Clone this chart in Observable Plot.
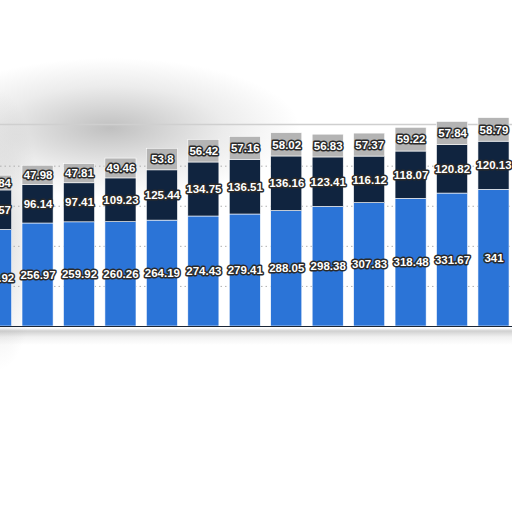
<!DOCTYPE html>
<html>
<head>
<meta charset="utf-8">
<script src="https://cdn.jsdelivr.net/npm/d3@7"></script>
<script src="https://cdn.jsdelivr.net/npm/@observablehq/plot@0.6"></script>
<style>
  html, body { margin: 0; padding: 0; background: #fff; overflow: hidden; }
  #chart {
    width: 512px; height: 512px;
    background:
      radial-gradient(ellipse 190px 70px at 110px 128px, rgba(140,140,140,0.55), rgba(150,150,150,0.18) 60%, rgba(160,160,160,0) 100%),
      radial-gradient(ellipse 40px 140px at 0px 230px, rgba(150,150,150,0.35), rgba(150,150,150,0) 100%),
      linear-gradient(to bottom, rgba(255,255,255,0) 328px, rgba(170,170,170,0.55) 331px, rgba(200,200,200,0.25) 337px, rgba(255,255,255,0) 345px),
      #ffffff;
  }
  #chart svg { display: block; }
</style>
</head>
<body>
<div id="chart"></div>
<script>
const categories = ["B1","B2","B3","B4","B5","B6","B7","B8","B9","B10","B11","B12","B13"];
const seriesNames = ["Segment A", "Segment B", "Segment C"];
const blueValues = [240.92, 256.97, 259.92, 260.26, 264.19, 274.43, 279.41, 288.05, 298.38, 307.83, 318.48, 331.67, 341];
const navyValues = [98.57, 96.14, 97.41, 109.23, 125.44, 134.75, 136.51, 136.16, 123.41, 116.12, 118.07, 120.82, 120.13];
const grayValues = [36.84, 47.98, 47.81, 49.46, 53.8, 56.42, 57.16, 58.02, 56.83, 57.37, 59.22, 57.84, 58.79];
const gridTicks = [100, 200, 300, 400];

const rows = [];
categories.forEach((c, i) => {
  const vals = [blueValues[i], navyValues[i], grayValues[i]];
  let base = 0;
  vals.forEach((v, k) => {
    rows.push({cat: c, series: seriesNames[k], value: v, y1: base, y2: base + v, mid: base + v / 2});
    base += v;
  });
});

const chart = Plot.plot({
  width: 512,
  height: 512,
  marginTop: 124,
  marginBottom: 186,
  marginLeft: 0,
  marginRight: 0,
  style: {background: "transparent", overflow: "hidden"},
  x: {type: "band", domain: categories, range: [-29.8, 519.4], padding: 0.25, round: false, axis: null},
  y: {domain: [0, 504], axis: null},
  color: {domain: seriesNames, range: ["#2b74d7", "#10243f", "#b4b4b4"]},
  marks: [
    Plot.ruleY(gridTicks, {stroke: "#b0b0b0", strokeDasharray: "1.5,3"}),
    Plot.ruleY([504], {stroke: "#cfcfcf", strokeWidth: 1.5}),
    Plot.barY(rows, {x: "cat", y1: "y1", y2: "y2", fill: "series", stroke: "#ffffff", strokeWidth: 0.6}),
    Plot.ruleY([0], {stroke: "#1b2635", strokeWidth: 1.2}),
    Plot.text(rows, {
      x: "cat", y: "mid", text: d => String(d.value),
      fill: "#ffffff", stroke: "#2a2a2a", strokeWidth: 3,
      fontFamily: "Liberation Sans, Arial, sans-serif", fontWeight: "bold", fontSize: 11.5
    })
  ]
});
document.getElementById("chart").appendChild(chart);
</script>
</body>
</html>
